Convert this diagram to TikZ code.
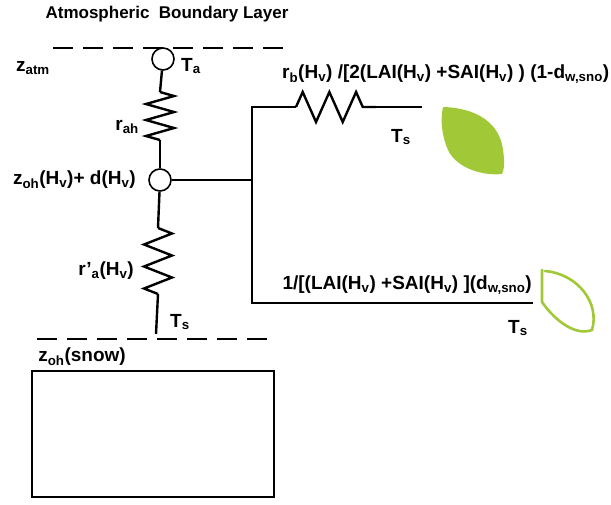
\documentclass[tikz,border=0pt]{standalone}
\usepackage{fontspec}
\setmainfont{Liberation Sans}
\usetikzlibrary{decorations.pathmorphing}

% chữ số dưới nhỏ, đậm
\newcommand{\lo}[1]{\textsubscript{#1}}

\definecolor{leafgreen}{RGB}{160,200,55}

\tikzset{
    wire/.style={line width=2.4pt},
    layer/.style={line width=2.6pt, dash pattern=on 20pt off 10pt},
    knot/.style={circle, draw, line width=1.6pt, fill=white, minimum size=22pt, inner sep=0pt},
    resistor/.style={wire, decorate, decoration={zigzag, segment length=#1, amplitude=14pt}},
    lbl/.style={font=\fontsize{19}{21}\selectfont\bfseries, inner sep=0pt}
}

\begin{document}
\begin{tikzpicture}[x=1pt, y=-1pt]

    \useasboundingbox (0,0) rectangle (611,504);

    % =================================================================
    % PHẦN 1: LỚP BIÊN KHÍ QUYỂN VÀ NHÁNH ĐỨNG
    % =================================================================
    \node[lbl, font=\fontsize{17}{19}\selectfont\bfseries] (title) at (167,14) {Atmospheric\ \ Boundary Layer};

    % Đường đứt nét phía trên (z_atm)
    \draw[layer] (53,48) -- (292,48);
    \node[lbl] (zatm) at (33,68) {z\lo{atm}};

    % Các nút nhiệt độ
    \node[knot] (Ta) at (163,59) {};
    \node[lbl, anchor=west] (TaL) at (181,66) {T\lo{a}};
    \node[knot] (Zh) at (160,180) {};

    \coordinate (R1a) at (160,92);
    \coordinate (R1b) at (160,140);
    \coordinate (R2a) at (158,228);
    \coordinate (R2b) at (158,294);
    \coordinate (Gs) at (156,334);

    % Điện trở r_ah và r'_a
    \draw[wire] (Ta) -- (R1a);
    \draw[resistor=16pt] (R1a) -- (R1b);
    \draw[wire] (R1b) -- (Zh);
    \draw[wire] (Zh) -- (R2a);
    \draw[resistor=22pt] (R2a) -- (R2b);
    \draw[wire] (R2b) -- (Gs);

    \node[lbl, anchor=east] (rah) at (139,127) {r\lo{ah}};
    \node[lbl, anchor=east] (zoh) at (136,180) {z\lo{oh}(H\lo{v})+ d(H\lo{v})};
    \node[lbl, anchor=east] (rpa) at (134,271) {r'\lo{a}(H\lo{v})};
    \node[lbl, anchor=west] (TsG) at (170,322) {T\lo{s}};

    % =================================================================
    % PHẦN 2: HAI NHÁNH QUA LÁ CÂY
    % =================================================================
    \coordinate (Bm) at (252,180);
    \coordinate (Bt) at (252,107);
    \coordinate (Bb) at (252,303);
    \coordinate (Ra) at (296,107);
    \coordinate (Rb) at (376,107);
    \coordinate (Lt) at (422,107);
    \coordinate (Lb) at (533,303);

    \draw[wire, line width=2pt] (Zh) -- (Bm);
    \draw[wire, line width=2pt] (Lt) -- (Rb);
    \draw[resistor=26.7pt, decoration={amplitude=15pt}] (Ra) -- (Rb);
    \draw[wire, line width=2pt] (Ra) -- (Bt) -- (Bb) -- (Lb);

    \node[lbl, anchor=west] (rb) at (282,74) {r\lo{b}(H\lo{v}) /[2(LAI(H\lo{v}) +SAI(H\lo{v}) ) (1-d\lo{w,sno})};
    \node[lbl, anchor=west] (TsT) at (391,137) {T\lo{s}};
    \node[lbl, anchor=east] (lw) at (532,285) {1/[(LAI(H\lo{v}) +SAI(H\lo{v}) ](d\lo{w,sno})};
    \node[lbl, anchor=west] (TsB) at (508,328) {T\lo{s}};

    % Lá xanh (tô đặc) và lá chỉ có viền
    \fill[leafgreen] (443,107) .. controls (478,108) and (500,124) .. (503,150)
        .. controls (505,162) and (504,170) .. (502,174)
        .. controls (482,176) and (458,168) .. (449,152)
        .. controls (442,138) and (440,120) .. cycle;
    \draw[leafgreen, line width=2.6pt, line cap=round] (542,270) -- (542,302)
        .. controls (556,322) and (576,336) .. (592,330)
        .. controls (600,303) and (578,274) .. (545,271);

    % =================================================================
    % PHẦN 3: LỚP TUYẾT PHÍA DƯỚI
    % =================================================================
    \draw[layer] (37,339) -- (272,339);
    \node[lbl] (zsnow) at (82,357) {z\lo{oh}(snow)};
    \draw[line width=1.8pt] (32,371) rectangle (274,497);

\end{tikzpicture}
\end{document}
